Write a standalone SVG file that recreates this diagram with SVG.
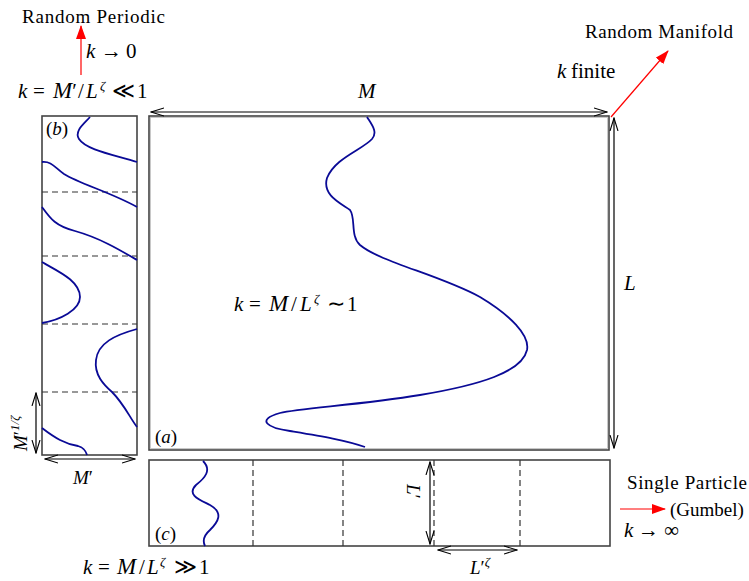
<svg xmlns="http://www.w3.org/2000/svg" width="749" height="581" viewBox="0 0 749 581">
<style>
text{font-family:'Liberation Serif','Times New Roman',serif;fill:#000;font-size:19px}
.i{font-style:italic}
.m{font-size:21px}
.bm{font-size:23px}
.rel{font-size:22px}
.sup{font-size:13px;font-style:italic}
.box{fill:none;stroke:#444;stroke-width:1.6}
.dash{fill:none;stroke:#333;stroke-width:1.2;stroke-dasharray:6,4}
.curve{fill:none;stroke:#0a0a96;stroke-width:1.8}
.dim{fill:none;stroke:#000;stroke-width:1.2}
.red{fill:none;stroke:#f00;stroke-width:1.2}
</style>
<defs>
<marker id="oa" markerWidth="14" markerHeight="10" refX="13" refY="5" orient="auto-start-reverse" markerUnits="userSpaceOnUse">
<path d="M0,1 L13,5 L0,9" fill="none" stroke="#000" stroke-width="1.1"/>
</marker>
<marker id="ra" markerWidth="14" markerHeight="10" refX="13" refY="5" orient="auto" markerUnits="userSpaceOnUse">
<path d="M0,0 L14,5 L0,10 z" fill="#f00"/>
</marker>
</defs>

<g id="box-a">
<rect class="box" x="149" y="116" width="460" height="334"/>
<rect x="150.5" y="117.5" width="457" height="331" fill="none" stroke="#bbb" stroke-width="0.8"/>
<path class="curve" d="M367,117 C372,125 378,132 372,139 C362,150 335,158 327,178 C322,195 340,203 350,210 C356,218 350,236 360,245 C380,262 440,275 480,297 C510,315 530,335 527,350 C522,372 480,385 420,395 C360,405 300,408 280,413 C255,420 268,428 290,431 C320,436 345,440 365,447"/>
<text x="155" y="443" font-size="18"><tspan>(</tspan><tspan class="i">a</tspan><tspan>)</tspan></text>
</g>

<g id="box-b">
<rect class="box" x="42" y="116" width="95" height="339"/>
<line class="dash" x1="42" y1="192" x2="137" y2="192"/>
<line class="dash" x1="42" y1="256" x2="137" y2="256"/>
<line class="dash" x1="42" y1="324" x2="137" y2="324"/>
<line class="dash" x1="42" y1="392" x2="137" y2="392"/>
<path class="curve" d="M90,117 C84,124 74,131 79,139 C86,150 115,155 137,162"/>
<path class="curve" d="M42,162 C52,161 55,168 64,174 C80,184 110,192 137,207"/>
<path class="curve" d="M42,207 C50,218 55,226 75,231 C100,238 120,250 137,260"/>
<path class="curve" d="M42,262 C55,270 80,280 80,297 C80,310 60,320 42,323"/>
<path class="curve" d="M137,329 C115,335 98,343 96,360 C94,375 104,385 112,392 C124,404 130,418 137,427"/>
<path class="curve" d="M42,428 C55,438 65,444 78,446 C85,448 86,452 87,455"/>
<text x="46" y="135" font-size="18"><tspan>(</tspan><tspan class="i">b</tspan><tspan>)</tspan></text>
<line class="dim" x1="36" y1="393" x2="36" y2="453" marker-start="url(#oa)" marker-end="url(#oa)"/>
<text transform="translate(27,451) rotate(-90)" font-size="20"><tspan class="i">M</tspan><tspan>′</tspan><tspan class="sup" dy="-8">1/ζ</tspan></text>
<line class="dim" x1="45" y1="459" x2="135" y2="459" marker-start="url(#oa)" marker-end="url(#oa)"/>
<text x="73" y="484" font-size="20"><tspan class="i">M</tspan><tspan>′</tspan></text>
</g>

<g id="box-c">
<rect class="box" x="149" y="460" width="461" height="86"/>
<line class="dash" x1="253" y1="460" x2="253" y2="546"/>
<line class="dash" x1="343" y1="460" x2="343" y2="546"/>
<line class="dash" x1="434" y1="460" x2="434" y2="546"/>
<line class="dash" x1="520" y1="460" x2="520" y2="546"/>
<path class="curve" d="M203,461 C212,470 205,478 196,485 C186,495 200,500 210,505 C224,513 218,522 210,530 C202,537 203,542 205,546"/>
<text x="155" y="540" font-size="18"><tspan>(</tspan><tspan class="i">c</tspan><tspan>)</tspan></text>
<line class="dim" x1="430" y1="462" x2="430" y2="544" marker-start="url(#oa)" marker-end="url(#oa)"/>
<text transform="translate(407,484) rotate(90)" font-size="20"><tspan class="i">L</tspan><tspan>′</tspan></text>
<line class="dim" x1="438" y1="550" x2="517" y2="550" marker-start="url(#oa)" marker-end="url(#oa)"/>
<text x="470" y="574" font-size="20"><tspan class="i">L</tspan><tspan>′</tspan><tspan class="sup" dy="-8">ζ</tspan></text>
</g>

<g id="connectors">
<line class="dim" x1="151" y1="112" x2="607" y2="112" marker-start="url(#oa)" marker-end="url(#oa)"/>
<line class="dim" x1="614" y1="118" x2="614" y2="448" marker-start="url(#oa)" marker-end="url(#oa)"/>
<line class="red" x1="81" y1="75" x2="81" y2="26" marker-end="url(#ra)"/>
<line class="red" x1="611" y1="117" x2="668" y2="51" marker-end="url(#ra)"/>
<line class="red" x1="620" y1="509" x2="665" y2="509" marker-end="url(#ra)"/>
</g>

<g id="labels">
<text x="22" y="23" textLength="143">Random Periodic</text>
<text y="58" class="m"><tspan x="86" class="i">k</tspan><tspan x="101">→</tspan><tspan x="126">0</tspan></text>
<text y="98" class="m"><tspan x="18" class="i">k</tspan><tspan x="33">=</tspan><tspan x="53" class="i bm">M</tspan><tspan>′</tspan><tspan x="78">/</tspan><tspan x="86" class="i">L</tspan><tspan class="sup" x="100" dy="-8">ζ</tspan><tspan x="112" dy="8" class="rel">≪</tspan><tspan x="137">1</tspan></text>
<text x="585" y="38" textLength="148">Random Manifold</text>
<text y="78" class="m"><tspan x="557" class="i">k</tspan><tspan x="571">finite</tspan></text>
<text x="358" y="98" class="m i">M</text>
<text x="624" y="290" class="m i">L</text>
<text y="311" class="m"><tspan x="234" class="i">k</tspan><tspan x="249">=</tspan><tspan x="269" class="i bm">M</tspan><tspan x="291">/</tspan><tspan x="300" class="i">L</tspan><tspan class="sup" x="314" dy="-8">ζ</tspan><tspan x="327" dy="8" class="rel">∼</tspan><tspan x="347">1</tspan></text>
<text x="627" y="489" textLength="120">Single Particle</text>
<text x="670" y="516" font-size="17">(Gumbel)</text>
<text y="537" class="m"><tspan x="624" class="i">k</tspan><tspan x="638">→</tspan><tspan x="664">∞</tspan></text>
<text y="574" class="m"><tspan x="83" class="i">k</tspan><tspan x="98">=</tspan><tspan x="117" class="i bm">M</tspan><tspan x="139">/</tspan><tspan x="147" class="i">L</tspan><tspan class="sup" x="160" dy="-8">ζ</tspan><tspan x="174" dy="8" class="rel">≫</tspan><tspan x="199">1</tspan></text>
</g>
</svg>
